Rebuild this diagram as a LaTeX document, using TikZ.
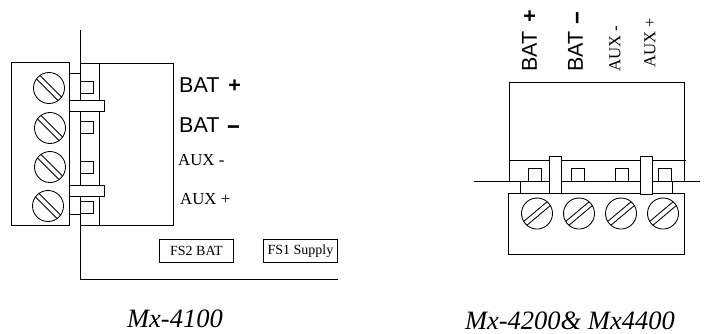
\documentclass[tikz,border=0pt]{standalone}
\usepackage{fontspec}
\setmainfont{Liberation Serif}
\setsansfont{Liberation Sans}
\newcommand{\thickminus}{{\addfontfeature{FakeBold=2.5}\textbf{--}}}
\tikzset{
  wire/.style={line width=0.85pt, color=black},
  tab/.style={wire, fill=white},
  batlabel/.style={font=\sffamily\fontsize{21.5}{21.5}\selectfont, inner sep=0pt},
  auxlabel/.style={font=\fontsize{16.8}{16.8}\selectfont, inner sep=0pt},
  fuselabel/.style={wire, draw, font=\fontsize{14}{14}\selectfont, inner sep=0pt, minimum width=74pt, minimum height=23pt, anchor=north west},
  caption/.style={font=\itshape\fontsize{26.5}{26.5}\selectfont, inner sep=0pt, anchor=base east},
  screw/.pic={
    \draw[wire] (0,0) circle (15.5);
    \draw[wire] (-15.3,-2.5) -- (15.3,-2.5);
    \draw[wire] (-15.3,2.5) -- (15.3,2.5);
  }
}
\begin{document}
\begin{tikzpicture}[x=1pt,y=-1pt]
  \useasboundingbox (0,0) rectangle (708,333);

  % Mx-4100 connector
  \draw[wire] (80.5,30) -- (80.5,279) -- (338,279);
  \draw[wire] (11,62) rectangle (69,225);
  \draw[wire] (69,73) rectangle (80.5,214);
  \draw[wire] (80.5,63.5) rectangle (173.5,225.5);
  \draw[wire] (99.5,63.5) -- (99.5,225.5);
  \foreach \y in {81,121,161,201}
    \draw[wire] (80.5,\y) rectangle (93,\y+12);
  \draw[tab] (69,100) rectangle (104.5,111.5);
  \draw[tab] (69,185) rectangle (104,196);
  \foreach \x/\y in {49/88,50/128,50/167,48/206}
    \pic[rotate=-45] at (\x,\y) {screw};

  % Mx-4100 labels
  \node[batlabel, anchor=west] (batplus) at (179,85) {BAT\hspace{9pt}\textbf{+}};
  \node[batlabel, anchor=west] (batminus) at (179,125) {BAT\hspace{8pt}\thickminus};
  \node[auxlabel, anchor=west] (auxminus) at (178,160) {AUX -};
  \node[auxlabel, anchor=west] (auxplus) at (180,199) {AUX +};
  \node[fuselabel] (fstwo) at (159,239) {FS2 BAT};
  \node[fuselabel] (fsone) at (263,239) {FS1 Supply};
  \node[caption] (capleft) at (223,327) {Mx-4100};

  % Mx-4200 connector
  \draw[wire] (474,181) -- (700,181);
  \draw[wire] (509,82) rectangle (684,181);
  \draw[wire] (509,160) -- (686,160);
  \draw[wire] (520.5,181) rectangle (672,193);
  \draw[wire] (508,193) rectangle (684,254);
  \foreach \x in {528,571,615,658}
    \draw[wire] (\x,168) rectangle (\x+13,181);
  \draw[tab] (549,156) rectangle (561.5,193);
  \draw[tab] (640,156.5) rectangle (652.5,194);
  \foreach \x in {537,579,621,663}
    \pic[rotate=40] at (\x,213.5) {screw};

  % Mx-4200 labels
  \node[batlabel, rotate=90, anchor=west] (topbatplus) at (529.5,72) {BAT\hspace{9pt}\textbf{+}};
  \node[batlabel, rotate=90, anchor=west] (topbatminus) at (575.5,72) {BAT\hspace{8pt}\thickminus};
  \node[auxlabel, rotate=90, anchor=west] (topauxminus) at (615,72) {AUX -};
  \node[auxlabel, rotate=90, anchor=west] (topauxplus) at (650,68) {AUX +};
  \node[caption] (capright) at (675,329.5) {Mx-4200\& Mx4400};
\end{tikzpicture}
\end{document}
